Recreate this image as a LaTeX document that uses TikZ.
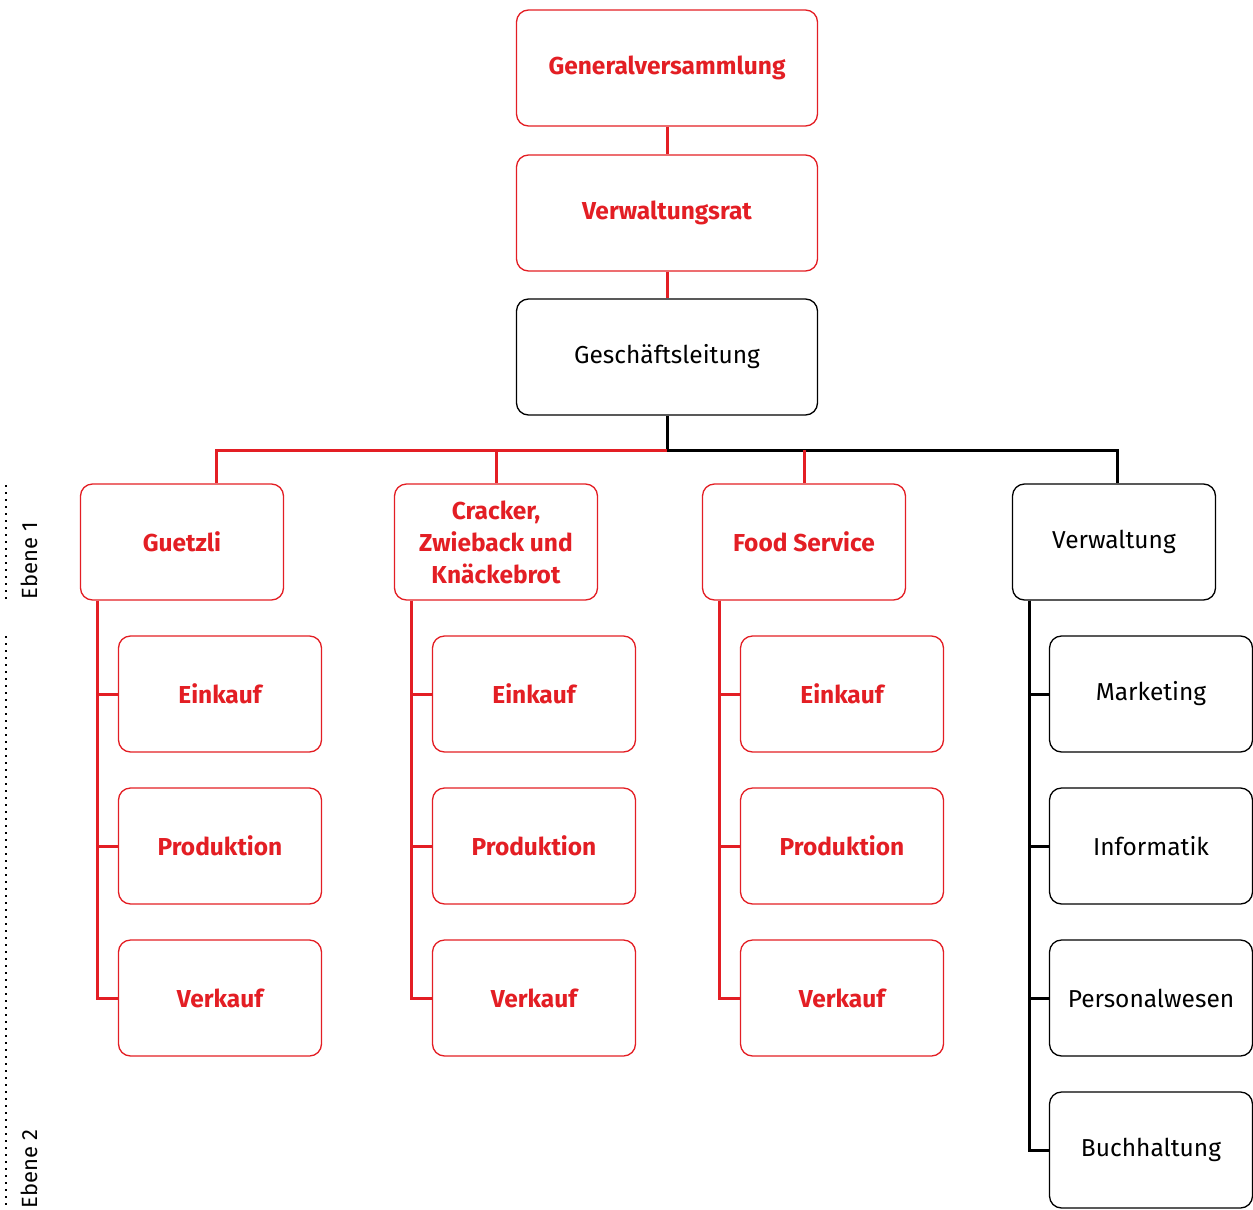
\documentclass[tikz,border=0pt]{standalone}
\usepackage{fontspec}
\setmainfont{Fira Sans}
\usetikzlibrary{positioning}
\definecolor{orgred}{RGB}{227,30,36}

\begin{document}
\begin{tikzpicture}[x=1pt,y=-1pt,
		% boxes of the chart
		box/.style={draw, rounded corners=12pt, line width=1.3pt, minimum width=203pt, minimum height=116pt, inner sep=0pt, align=center, font=\fontsize{24.5}{32}\selectfont},
		redbox/.style={box, draw=orgred, text=orgred, font=\fontsize{24.5}{32}\selectfont\bfseries},
		topbox/.style={minimum width=301pt},
		link/.style={line width=3pt},
		levelline/.style={line width=1.5pt, dash pattern=on 1.5pt off 5.5pt},
		levelname/.style={rotate=90, anchor=base west, font=\fontsize{22}{26}\selectfont}
		]
		\useasboundingbox (0,0) rectangle (1253,1210);
		\node[redbox, topbox] (gv) at (667,68) {Generalversammlung};
		\node[redbox, topbox] (vr) at (667,213) {Verwaltungsrat};
		\node[box, topbox] (gl) at (667,357) {Geschäftsleitung};
		\node[redbox] (guetzli) at (182,542) {Guetzli};
		\node[redbox] (cracker) at (496,542) {Cracker,\\Zwieback und\\Knäckebrot};
		\node[redbox] (food) at (804,542) {Food Service};
		\node[box] (verw) at (1114,542) {Verwaltung};
		% departments below each product line
		\foreach \col/\cx in {g/220, c/534, f/842} {
			\node[redbox] (\col-ek) at (\cx,694) {Einkauf};
			\node[redbox] (\col-pr) at (\cx,846) {Produktion};
			\node[redbox] (\col-vk) at (\cx,998) {Verkauf};
		}
		\node[box] (mk) at (1151,694) {Marketing};
		\node[box] (it) at (1151,846) {Informatik};
		\node[box] (pw) at (1151,998) {Personalwesen};
		\node[box] (bh) at (1151,1150) {Buchhaltung};
		\coordinate (bus) at (667,450);
		% connectors
		\draw[link, orgred] (gv) -- (vr);
		\draw[link, orgred] (vr) -- (gl);
		\draw[link] (gl.south) -- (bus) -| ([xshift=3pt]verw.north);
		\draw[link, orgred] (bus) -| ([xshift=34pt]guetzli.north);
		\draw[link, orgred] (cracker.north |- bus) -- (cracker.north);
		\draw[link, orgred] (food.north |- bus) -- (food.north);
		\foreach \col/\top in {g/guetzli, c/cracker, f/food} {
			\draw[link, orgred] ([xshift=18pt]\top.south west) |- (\col-ek.west);
			\draw[link, orgred] ([xshift=18pt]\top.south west) |- (\col-pr.west);
			\draw[link, orgred] ([xshift=18pt]\top.south west) |- (\col-vk.west);
		}
		\foreach \dep in {mk, it, pw, bh}
			\draw[link] ([xshift=18pt]verw.south west) |- (\dep.west);
		% levels at the left
		\draw[levelline] (6,485) -- (6,601);
		\draw[levelline] (6,636) -- (6,1210);
		\node[levelname] (ebene1) at (37,603) {Ebene 1};
		\node[levelname] (ebene2) at (37,1212) {Ebene 2};
\end{tikzpicture}
\end{document}
